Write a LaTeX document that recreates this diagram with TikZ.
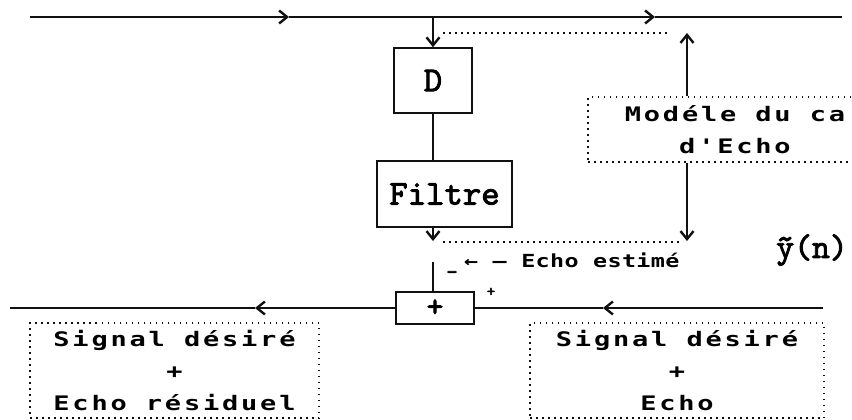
\documentclass[tikz,border=0pt]{standalone}
\usepackage{fontspec}
\usepackage{tikz}
\usetikzlibrary{arrows.meta,positioning}
\definecolor{ink}{HTML}{111111}
\newfontfamily\dotfont[FakeStretch=1.35,LetterSpace=14]{DejaVu Sans Mono}
\newfontfamily\dotfontn[FakeStretch=1.3,LetterSpace=2]{DejaVu Sans Mono}
\newfontfamily\typefont[FakeBold=2.5]{lmmono10-regular.otf}

\tikzset{
  wire/.style={draw=ink,line width=1.8pt},
  sig/.style={wire,-{Straight Barb[length=8pt,width=13pt,line width=2.4pt]}},
  dotline/.style={draw=ink,line width=1.5pt,dash pattern=on 1.5pt off 4.5pt},
  blockbox/.style={draw=ink,line width=1.6pt,inner sep=0pt,
                   font=\typefont\fontsize{35}{35}\selectfont},
  dotbox/.style={dotline,inner sep=0pt,align=center,
                 font=\dotfont\bfseries\fontsize{20}{32}\selectfont},
  sgn/.style={inner sep=0pt,font=\typefont\fontsize{#1}{#1}\selectfont}
}

\begin{document}
\begin{tikzpicture}[x=1pt,y=-1pt]
  \path[use as bounding box,clip] (0,0) rectangle (852,420);

  % blocks
  \node[blockbox,minimum width=78pt,minimum height=65pt] (D) at (433,80.5) {D};
  \node[blockbox,minimum width=135pt,minimum height=66pt] (filtre) at (444.5,194) {Filtre};
  \node[blockbox,minimum width=78pt,minimum height=32pt,
        font=\typefont\fontsize{32}{32}\selectfont] (som) at (435,308) {+};
  \node[dotbox,minimum width=294pt,minimum height=65pt] (modele) at (735,129.5)
       {Mod\'ele du ca\\d'Echo};
  \node[dotbox,minimum width=289pt,minimum height=95pt] (residu) at (174.5,370.5)
       {Signal d\'esir\'e\\+\\Echo r\'esiduel};
  \node[dotbox,minimum width=294pt,minimum height=95pt] (recu) at (677,370.5)
       {Signal d\'esir\'e\\+\\Echo};

  % points on the lines
  \coordinate (in) at (30,17);
  \coordinate (a1) at (289,17);
  \coordinate (j) at (433,17);
  \coordinate (a2) at (655,17);
  \coordinate (out) at (842,17);
  \coordinate (m1) at (687,33);
  \coordinate (m2) at (687,241);
  \coordinate (fb) at (433,241);
  \coordinate (s0) at (433,262);
  \coordinate (r0) at (823,308);
  \coordinate (r1) at (603,308);
  \coordinate (l1) at (255,308);
  \coordinate (l0) at (10,308);

  % upper path
  \draw[sig] (in) -- (a1);
  \draw[sig] (a1) -- (a2);
  \draw[wire] (a2) -- (out);
  \draw[sig] (j) -- (j |- D.north);
  \draw[wire] (D.south) -- (D.south |- filtre.north);
  \draw[sig] (fb |- filtre.south) -- (fb);
  \draw[dotline] (443,33) -- (667,33);
  \draw[sig] (m1 |- modele.north) -- (m1);
  \draw[sig] (m2 |- modele.south) -- (m2);
  \draw[dotline] (443,242) -- (680,242);

  \node[anchor=west,inner sep=0pt,
        font=\dotfontn\bfseries\fontsize{18}{18}\selectfont] (estime) at (464,260)
       {← — Echo estim\'e};
  \node[sgn=34] (yn) at (812,250) {\~{y}(n)};

  % lower path
  \draw[wire] (s0) -- (s0 |- som.north);
  \node[sgn=22] (moins) at (452,275) {-};
  \node[sgn=16] (plus) at (491,292) {+};
  \draw[sig] (r0) -- (r1);
  \draw[wire] (r1) -- (som.east);
  \draw[sig] (som.west) -- (l1);
  \draw[wire] (l1) -- (l0);
\end{tikzpicture}
\end{document}
